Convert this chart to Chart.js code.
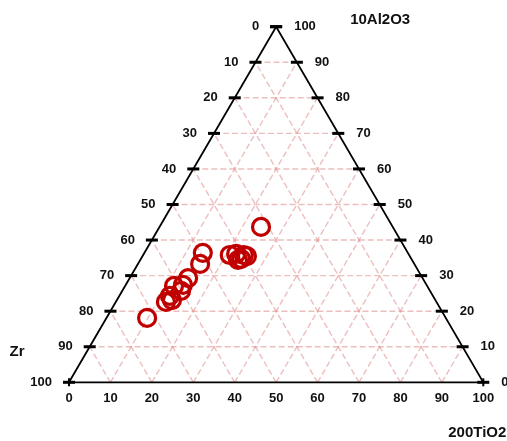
<!DOCTYPE html>
<html>
<head>
<meta charset="utf-8">
<script src="https://cdn.jsdelivr.net/npm/chart.js@4"></script>
<style>
  html, body { margin: 0; padding: 0; background: #fff; }
  #wrap { width: 507px; height: 441px; }
</style>
</head>
<body>
<div id="wrap"><canvas id="ternary" width="507" height="441"></canvas></div>
<script>
// sample compositions (Zr / 200TiO2 / 10Al2O3), each row sums to 100
var zr = [49.5, 51.7, 56.6, 58.8, 61.1, 60.1, 63.5, 65.3, 63.6, 72.1, 43.3, 41.6, 39.9, 39.3, 42.0, 41.1, 31.8]
var ti = [14.1, 15.0, 14.1, 13.8, 11.8, 14.2, 12.2, 12.1, 13.3, 9.8, 20.9, 22.3, 24.3, 25.2, 23.6, 24.2, 24.5]
var al = [36.4, 33.3, 29.3, 27.4, 27.1, 25.7, 24.3, 22.6, 23.1, 18.1, 35.8, 36.1, 35.8, 35.5, 34.4, 34.7, 43.7]

var gridTicks = [10, 20, 30, 40, 50, 60, 70, 80, 90]
var axisTicks = [0, 10, 20, 30, 40, 50, 60, 70, 80, 90, 100]

var titleTop = '10Al2O3'
var titleLeft = 'Zr'
var titleRight = '200TiO2'

var gridColor = 'rgba(226, 150, 150, 0.62)'
var pointColor = '#c00000'

// ternary -> cartesian (bottom axis = TiO2, height = Al2O3)
function toXY(z, t, a) {
    return { x: t + a / 2, y: a }
}

var datasets = []

// sample points first so they sit on top
datasets.push({
    label: 'samples',
    data: zr.map((z, i) => toXY(z, ti[i], al[i])),
    showLine: false,
    pointRadius: 8.5,
    pointHoverRadius: 8.5,
    pointBorderWidth: 3.2,
    pointBorderColor: pointColor,
    pointBackgroundColor: 'rgba(0,0,0,0)',
    clip: false
})

// tick dashes on the two slanted edges
var edgeTicks = []
axisTicks.forEach(v => {
    edgeTicks.push(toXY(v, 0, 100 - v))
    edgeTicks.push(toXY(0, 100 - v, v))
})
datasets.push({
    label: 'edgeticks',
    data: edgeTicks,
    showLine: false,
    pointStyle: 'line',
    pointRadius: 6,
    pointBorderWidth: 3,
    pointBorderColor: '#000',
    clip: false
})
datasets.push({
    label: 'cornerticks',
    data: [toXY(100, 0, 0), toXY(0, 100, 0)],
    showLine: false,
    pointStyle: 'line',
    rotation: 90,
    pointRadius: 4,
    pointBorderWidth: 2,
    pointBorderColor: '#000',
    clip: false
})

// outline
datasets.push({
    label: 'outline',
    data: [toXY(100, 0, 0), toXY(0, 100, 0), toXY(0, 0, 100), toXY(100, 0, 0)],
    showLine: true,
    borderColor: '#000',
    borderWidth: 1.8,
    pointRadius: 0,
    clip: false
})

// dashed grid, three families
function gridLine(p1, p2) {
    datasets.push({
        label: 'grid',
        data: [p1, p2],
        showLine: true,
        borderColor: gridColor,
        borderWidth: 1.4,
        borderDash: [6, 3],
        pointRadius: 0,
        clip: false
    })
}
gridTicks.forEach(v => {
    gridLine(toXY(100 - v, 0, v), toXY(0, 100 - v, v))   // constant Al2O3
    gridLine(toXY(100 - v, v, 0), toXY(0, v, 100 - v))   // constant TiO2
    gridLine(toXY(v, 100 - v, 0), toXY(v, 0, 100 - v))   // constant Zr
})

const labelPlugin = {
    id: 'ternaryLabels',
    afterDraw(chart) {
        let ctx = chart.ctx
        let xs = chart.scales.x, ys = chart.scales.y
        let px = p => xs.getPixelForValue(p.x)
        let py = p => ys.getPixelForValue(p.y)
        ctx.save()
        ctx.fillStyle = '#111'
        ctx.font = 'bold 13px "Liberation Sans", Arial, sans-serif'
        ctx.textBaseline = 'middle'

        axisTicks.forEach(v => {
            let l = toXY(v, 0, 100 - v)
            ctx.textAlign = 'right'
            ctx.fillText(String(v), px(l) - 17, py(l))

            let r = toXY(0, 100 - v, v)
            ctx.textAlign = 'left'
            ctx.fillText(String(v), px(r) + 18, py(r))

            let b = toXY(100 - v, v, 0)
            ctx.textAlign = 'center'
            ctx.fillText(String(v), px(b), py(b) + 16)
        })

        ctx.font = 'bold 15px "Liberation Sans", Arial, sans-serif'
        ctx.textAlign = 'center'
        let top = toXY(0, 0, 100)
        ctx.fillText(titleTop, px(top) + 104, py(top) - 7)
        let left = toXY(100, 0, 0)
        ctx.fillText(titleLeft, px(left) - 52, py(left) - 30)
        let right = toXY(0, 100, 0)
        ctx.fillText(titleRight, px(right) - 6, py(right) + 51)
        ctx.restore()
    }
}

new Chart(document.getElementById('ternary'), {
    type: 'scatter',
    data: { datasets: datasets },
    options: {
        responsive: false,
        animation: false,
        events: [],
        layout: { padding: { left: 69, right: 23.7, top: 26.7, bottom: 58.7 } },
        scales: {
            x: { type: 'linear', min: 0, max: 100, display: false },
            y: { type: 'linear', min: 0, max: 100, display: false }
        },
        plugins: {
            legend: { display: false },
            tooltip: { enabled: false }
        }
    },
    plugins: [labelPlugin]
})
</script>
</body>
</html>
